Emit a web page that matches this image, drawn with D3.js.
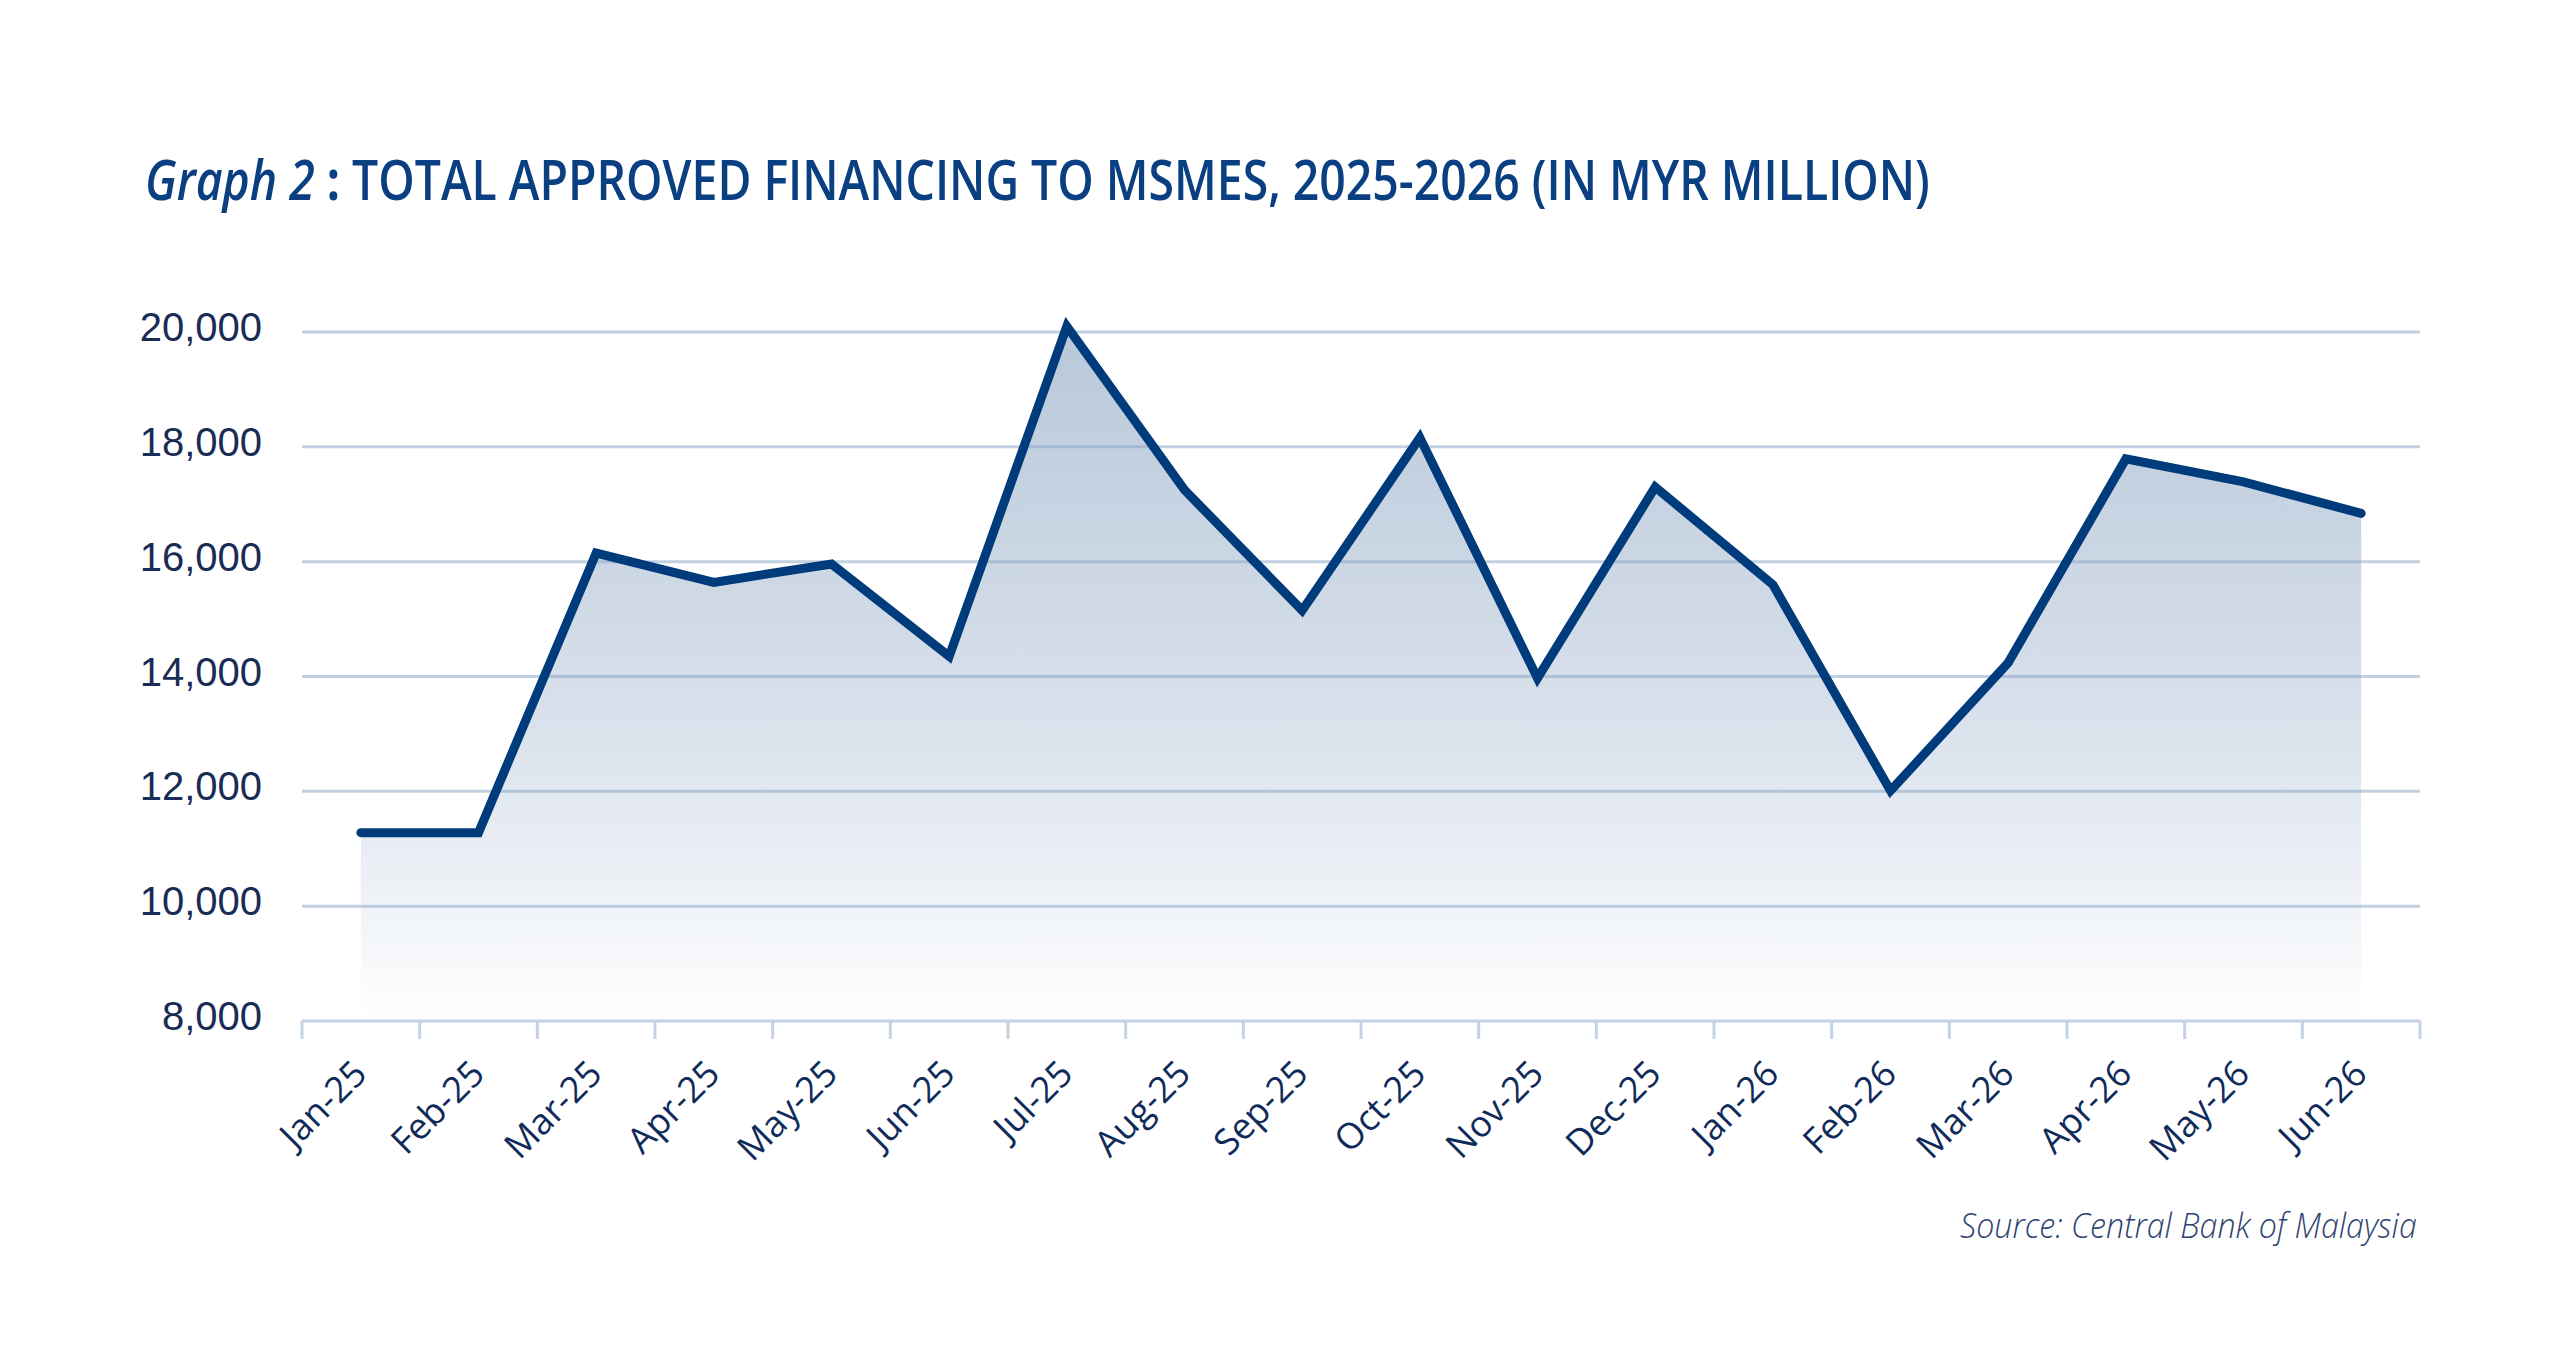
<!DOCTYPE html>
<html>
<head>
<meta charset="utf-8">
<script src="https://cdn.jsdelivr.net/npm/d3@7"></script>
<style>
  html, body { margin: 0; padding: 0; background: #ffffff; }
  svg { display: block; }
</style>
</head>
<body>
<div id="display"></div>
<script>
// data (MYR million)
const months = ['Jan-25', 'Feb-25', 'Mar-25', 'Apr-25', 'May-25', 'Jun-25', 'Jul-25', 'Aug-25', 'Sep-25',
    'Oct-25', 'Nov-25', 'Dec-25', 'Jan-26', 'Feb-26', 'Mar-26', 'Apr-26', 'May-26', 'Jun-26'];
const financing = [11280, 11280, 16150, 15640, 15960, 14350, 20100, 17250, 15150,
    18160, 13970, 17300, 15600, 12010, 14240, 17790, 17390, 16840];
const yTicks = [8000, 10000, 12000, 14000, 16000, 18000, 20000];

const titleLead = 'Graph 2';
const titleSep = ' : ';
const titleText = 'TOTAL APPROVED FINANCING TO MSMES, 2025-2026 (IN MYR MILLION)';
const sourceText = 'Source: Central Bank of Malaysia';

// page and plot sizes
const W = 2560, H = 1365;
const plot = {left: 302, right: 2420, top: 332, bottom: 1021};

const navy = '#003b7b';
const gridColor = '#c5d2e3';

let svg = d3.select('#display')
    .append('svg')
        .attr('width', W)
        .attr('height', H);

svg.append('rect')
    .attr('width', W)
    .attr('height', H)
    .attr('fill', '#ffffff');

// squeeze a text element horizontally so it spans the wanted width
function fitWidth(sel, x0, width) {
    let bb = sel.node().getBBox();
    let k = width / bb.width;
    sel.attr('transform', 'translate(' + x0 + ',0) scale(' + k + ',1) translate(' + (-bb.x) + ',0)');
}

// title
let title = svg.append('text')
    .attr('y', 200)
    .attr('fill', '#0a3f82')
    .style('font-family', '"Open Sans", "Noto Sans", sans-serif')
    .style('font-size', '56px')
    .style('font-weight', 600);
title.append('tspan')
    .style('font-style', 'italic')
    .text(titleLead);
title.append('tspan')
    .style('font-weight', 700)
    .text(titleSep);
title.append('tspan')
    .text(titleText);
fitWidth(title, 145, 1785);

// scales
let x = d3.scaleBand()
    .domain(months)
    .range([plot.left, plot.right]);

let y = d3.scaleLinear()
    .domain([8000, 20000])
    .range([plot.bottom, plot.top]);

let cx = d => x(d) + x.bandwidth() / 2;

let points = months.map((m, i) => ({month: m, value: financing[i]}));

// gradient for the area
let defs = svg.append('defs');
let grad = defs.append('linearGradient')
    .attr('id', 'areaFill')
    .attr('gradientUnits', 'userSpaceOnUse')
    .attr('x1', 0).attr('x2', 0)
    .attr('y1', y(20000)).attr('y2', y(8000));
grad.append('stop').attr('offset', '0%').attr('stop-color', '#b9c8da');
grad.append('stop').attr('offset', '55%').attr('stop-color', '#d8e0eb');
grad.append('stop').attr('offset', '85%').attr('stop-color', '#f1f4f8');
grad.append('stop').attr('offset', '100%').attr('stop-color', '#ffffff');

// area
let area = d3.area()
    .x(d => cx(d.month))
    .y0(y(8000))
    .y1(d => y(d.value));

svg.append('path')
    .datum(points)
    .attr('d', area)
    .attr('fill', 'url(#areaFill)');

// gridlines (drawn over the fill so they darken inside it)
svg.append('g')
    .selectAll('line')
    .data(yTicks.filter(t => t > 8000))
    .enter()
    .append('line')
        .attr('x1', plot.left)
        .attr('x2', plot.right)
        .attr('y1', d => y(d))
        .attr('y2', d => y(d))
        .attr('stroke', '#8ba5c5')
        .attr('stroke-opacity', 0.52)
        .attr('stroke-width', 3);

// y labels
svg.append('g')
    .selectAll('text')
    .data(yTicks)
    .enter()
    .append('text')
        .attr('x', 262)
        .attr('y', d => y(d) + 9)
        .attr('text-anchor', 'end')
        .attr('fill', '#182c55')
        .style('font-family', '"Liberation Sans", Arial, sans-serif')
        .style('font-size', '40px')
        .text(d => d3.format(',')(d));

// x axis with ticks on band edges
let xAxis = d3.axisBottom(x)
    .tickSize(0)
    .tickFormat('');
let gx = svg.append('g')
    .attr('transform', 'translate(0,' + plot.bottom + ')')
    .call(xAxis);
gx.select('.domain')
    .attr('d', 'M' + plot.left + ',0H' + plot.right)
    .attr('stroke', gridColor)
    .attr('stroke-width', 3);
gx.selectAll('.tick').remove();

let edges = months.map(m => x(m)).concat([x(months[months.length - 1]) + x.bandwidth()]);
gx.selectAll('line.edge')
    .data(edges)
    .enter()
    .append('line')
        .attr('class', 'edge')
        .attr('x1', d => d)
        .attr('x2', d => d)
        .attr('y1', 0)
        .attr('y2', 18)
        .attr('stroke', gridColor)
        .attr('stroke-width', 3);

// rotated month labels
svg.append('g')
    .selectAll('text')
    .data(months)
    .enter()
    .append('text')
        .attr('transform', d => 'translate(' + (cx(d) + 8) + ',1076) rotate(-45)')
        .attr('text-anchor', 'end')
        .attr('fill', '#0f2b5a')
        .style('font-family', '"Open Sans", "Noto Sans", sans-serif')
        .style('font-size', '36px')
        .text(d => d);

// the line
let line = d3.line()
    .x(d => cx(d.month))
    .y(d => y(d.value));

svg.append('path')
    .datum(points)
    .attr('d', line)
    .attr('fill', 'none')
    .attr('stroke', navy)
    .attr('stroke-width', 9)
    .attr('stroke-linejoin', 'miter')
    .attr('stroke-linecap', 'round');

// source note
let source = svg.append('text')
    .attr('y', 1238)
    .attr('fill', '#2e4470')
    .style('font-family', '"Open Sans", "Noto Sans", sans-serif')
    .style('font-size', '35px')
    .style('font-style', 'italic')
    .style('font-weight', 300)
    .text(sourceText);
fitWidth(source, 1960, 457);
</script>
</body>
</html>
